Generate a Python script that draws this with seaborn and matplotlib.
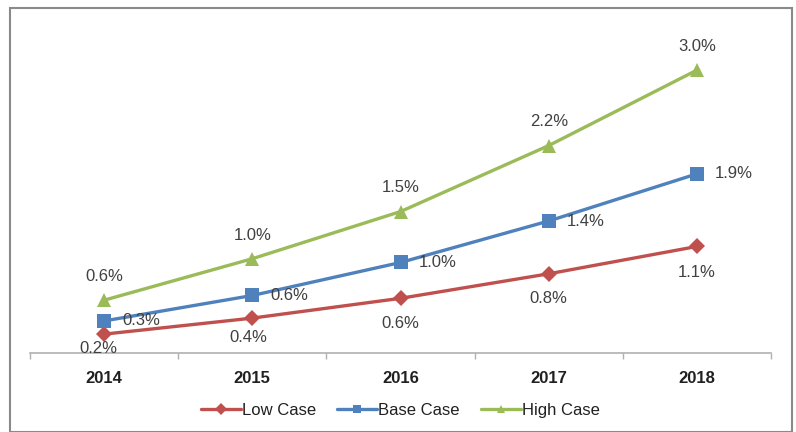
import pandas as pd
import matplotlib.pyplot as plt
import seaborn as sns
from matplotlib.patches import Rectangle

years = ["2014", "2015", "2016", "2017", "2018"]
low_case = [0.20, 0.37, 0.58, 0.84, 1.13]
base_case = [0.34, 0.61, 0.96, 1.40, 1.90]
high_case = [0.56, 1.00, 1.50, 2.20, 3.00]
series_names = ["Low Case", "Base Case", "High Case"]

rows = []
for name, vals in zip(series_names, [low_case, base_case, high_case]):
    for i, v in enumerate(vals):
        rows.append({"year": i, "case": name, "value": v})
df = pd.DataFrame(rows)

sns.set_theme(style="white")
plt.rcParams['font.family'] = ['Liberation Sans', 'DejaVu Sans']

colors = {"Low Case": "#C0504D", "Base Case": "#4F81BD", "High Case": "#9BBB59"}
markers = {"Low Case": "D", "Base Case": "s", "High Case": "^"}
msizes = {"Low Case": 8, "Base Case": 9.5, "High Case": 9.5}

fig = plt.figure(figsize=(7.96, 4.32), dpi=100)
ax = fig.add_axes([30 / 796, 1 - 353 / 432, 741 / 796, 330 / 432])

sns.lineplot(data=df, x="year", y="value", hue="case", style="case",
             markers=markers, dashes=False, palette=colors, linewidth=2.4,
             markersize=9, markeredgewidth=0, ax=ax)
for line, name in zip(ax.lines, series_names):
    line.set_markersize(msizes[name])

label_color = "#404040"
# data labels
low_dy = [-10, -14, -18, -18, -19]
low_dx = [-4, -3, 0, 0, 0]
for i, v in enumerate(low_case):
    ax.annotate(f"{v:.1f}%", (i, v), xytext=(low_dx[i], low_dy[i]), textcoords="offset points",
                ha="center", va="center", fontsize=12, color=label_color)
for i, v in enumerate(base_case):
    ax.annotate(f"{v:.1f}%", (i, v), xytext=(13, 0), textcoords="offset points",
                ha="left", va="center", fontsize=12, color=label_color)
for i, v in enumerate(high_case):
    ax.annotate(f"{v:.1f}%", (i, v), xytext=(0, 17), textcoords="offset points",
                ha="center", va="center", fontsize=12, color=label_color)

ax.set_xlim(-0.5, 4.5)
ax.set_ylim(0, 3.5)
ax.set_xticks(range(len(years)))
ax.set_xticklabels(years, fontsize=12, color="#202020", fontweight="bold")
ax.set_xticks([x - 0.5 for x in range(len(years) + 1)], minor=True)
ax.tick_params(axis="x", which="major", length=0, pad=13)
ax.tick_params(axis="x", which="minor", length=4, color="#B0B0B0", bottom=True, direction="out")
ax.set_yticks([])
ax.set_xlabel("")
ax.set_ylabel("")
for s in ["top", "right", "left"]:
    ax.spines[s].set_visible(False)
ax.spines["bottom"].set_color("#B0B0B0")
ax.spines["bottom"].set_linewidth(1.2)

handles, labels = ax.get_legend_handles_labels()
for h in handles:
    h.set_markersize(6)
leg = ax.legend(handles, labels, loc="center", bbox_to_anchor=(0.5, -0.173),
                ncol=3, frameon=False, fontsize=12, handlelength=2.4,
                handletextpad=0.05, columnspacing=1.3)
for t in leg.get_texts():
    t.set_color("#202020")

# outer border
fig.patches.append(Rectangle((10 / 796, 0), 782 / 796, 1 - 8 / 432, transform=fig.transFigure,
                             fill=False, edgecolor="#8A8A8A", linewidth=1.5))

fig.savefig("out.png", dpi=100)
